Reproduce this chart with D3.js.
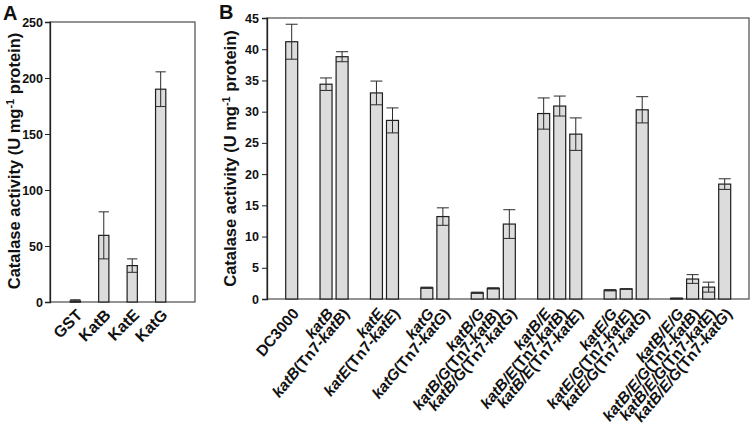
<!DOCTYPE html>
<html>
<head>
<meta charset="utf-8">
<script src="https://cdn.jsdelivr.net/npm/d3@7"></script>
<style>
  html, body { margin: 0; padding: 0; background: #fff; }
  svg { display: block; font-family: "Liberation Sans", Arial, sans-serif; }
</style>
</head>
<body>
<svg id="chart" width="750" height="440"></svg>
<script>
// ---------- Data ----------
const categoriesA = ["GST", "KatB", "KatE", "KatG"];
const valuesA = [1, 59.5, 32.5, 190];
const errorsA = [1, 21, 6, 15.5];
const ticksA = [0, 50, 100, 150, 200, 250];

const categoriesB = [
  "DC3000",
  "katB", "katB(Tn7-katB)",
  "katE", "katE(Tn7-katE)",
  "katG", "katG(Tn7-katG)",
  "katB/G", "katB/G(Tn7-katB)", "katB/G(Tn7-katG)",
  "katB/E", "katB/E(Tn7-katB)", "katB/E(Tn7-katE)",
  "katE/G", "katE/G(Tn7-katE)", "katE/G(Tn7-katG)",
  "katB/E/G", "katB/E/G(Tn7-katB)", "katB/E/G(Tn7-katE)", "katB/E/G(Tn7-katG)"
];
const groupsB = [0, 1, 1, 2, 2, 3, 3, 4, 4, 4, 5, 5, 5, 6, 6, 6, 7, 7, 7, 7];
const valuesB = [41.2, 34.4, 38.8, 33.0, 28.6, 1.8, 13.2, 1.0, 1.7, 12.0,
                 29.7, 30.9, 26.4, 1.4, 1.6, 30.3, 0.1, 3.2, 1.9, 18.4];
const errorsB = [2.8, 1.0, 0.8, 1.9, 2.0, 0.1, 1.4, 0.1, 0.1, 2.3,
                 2.5, 1.6, 2.6, 0.1, 0.05, 2.1, 0.05, 0.7, 0.8, 0.85];
const ticksB = [0, 5, 10, 15, 20, 25, 30, 35, 40, 45];

// ---------- Style ----------
const barFill = "#dcdcdc";
const barStroke = "#1e1e1e";
const errColor = "#2a2a2a";
const frameColor = "#5a5a5a";
const axisColor = "#222";

const svg = d3.select("#chart");

function titleText(g, x, y) {
  const t = g.append("text")
    .attr("transform", "translate(" + x + "," + y + ") rotate(-90)")
    .attr("text-anchor", "middle")
    .attr("font-weight", "bold")
    .attr("font-size", 16.5)
    .attr("fill", "#111");
  t.append("tspan").text("Catalase activity (U mg");
  t.append("tspan").attr("dy", -6).attr("font-size", 11).text("-1");
  t.append("tspan").attr("dy", 6).text(" protein)");
}

function labelText(sel, label) {
  const parts = label.split(/(kat[A-Z](?:\/[A-Z])*)/).filter(s => s.length);
  parts.forEach(p => {
    sel.append("tspan")
      .attr("font-style", /^kat/.test(p) ? "italic" : "normal")
      .text(p);
  });
}

// ---------- Panel A ----------
const A = { left: 50, right: 195, top: 22, bottom: 302 };
const xA = d3.scaleBand().domain(categoriesA).range([52, 184]).padding(0.64);
const yA = d3.scaleLinear().domain([0, 250]).range([A.bottom, A.top]);
const gA = svg.append("g");

gA.append("rect")
  .attr("x", A.left).attr("y", A.top)
  .attr("width", A.right - A.left).attr("height", A.bottom - A.top)
  .attr("fill", "none").attr("stroke", frameColor).attr("stroke-width", 1.3);

const axA = gA.append("g").attr("transform", "translate(" + A.left + ",0)")
  .call(d3.axisLeft(yA).tickValues(ticksA).tickSize(5).tickPadding(2));
axA.select(".domain").attr("stroke", axisColor).attr("stroke-width", 1.3);
axA.selectAll(".tick line").attr("stroke", axisColor);
axA.selectAll(".tick text").attr("font-size", 12.5).attr("font-weight", "bold")
  .attr("fill", "#111").attr("font-family", "Liberation Sans, Arial, sans-serif");

const bwA = xA.bandwidth();
gA.selectAll("rect.bar").data(categoriesA).enter().append("rect")
  .attr("class", "bar")
  .attr("x", d => xA(d))
  .attr("y", (d, i) => yA(valuesA[i]))
  .attr("width", bwA)
  .attr("height", (d, i) => yA(0) - yA(valuesA[i]))
  .attr("fill", barFill).attr("stroke", barStroke).attr("stroke-width", 1.2);

const eA = gA.selectAll("g.err").data(categoriesA).enter().append("g").attr("class", "err");
eA.append("line")
  .attr("x1", d => xA(d) + bwA / 2).attr("x2", d => xA(d) + bwA / 2)
  .attr("y1", (d, i) => yA(valuesA[i] + errorsA[i]))
  .attr("y2", (d, i) => yA(Math.max(0, valuesA[i] - errorsA[i])))
  .attr("stroke", errColor).attr("stroke-width", 1);
[1, -1].forEach(s => {
  eA.append("line")
    .attr("x1", d => xA(d)).attr("x2", d => xA(d) + bwA)
    .attr("y1", (d, i) => yA(Math.max(0, valuesA[i] + s * errorsA[i])))
    .attr("y2", (d, i) => yA(Math.max(0, valuesA[i] + s * errorsA[i])))
    .attr("stroke", errColor).attr("stroke-width", 1);
});

gA.selectAll("text.xl").data(categoriesA).enter().append("text")
  .attr("class", "xl")
  .attr("transform", d => "translate(" + (xA(d) + bwA / 2 + 8) + "," + (A.bottom + 14) + ") rotate(-45)")
  .attr("text-anchor", "end")
  .attr("font-weight", "bold").attr("font-size", 16).attr("fill", "#111")
  .text(d => d);

titleText(gA, 20, 161);
svg.append("text").attr("x", 3).attr("y", 20).attr("font-weight", "bold")
  .attr("font-size", 20).attr("fill", "#111").text("A");

// ---------- Panel B ----------
const B = { left: 267, right: 749, top: 18, bottom: 299 };
const gapExtra = 1.14;
const posB = categoriesB.map((d, i) => i + groupsB[i] * gapExtra);
const xB = d3.scaleLinear().domain([0, d3.max(posB)]).range([291.7, 724.7]);
const yB = d3.scaleLinear().domain([0, 45]).range([B.bottom, B.top]);
const bwB = 12;
const gB = svg.append("g");

gB.append("rect")
  .attr("x", B.left).attr("y", B.top)
  .attr("width", B.right - B.left).attr("height", B.bottom - B.top)
  .attr("fill", "none").attr("stroke", frameColor).attr("stroke-width", 1.3);

const axB = gB.append("g").attr("transform", "translate(" + B.left + ",0)")
  .call(d3.axisLeft(yB).tickValues(ticksB).tickSize(5).tickPadding(3));
axB.select(".domain").attr("stroke", axisColor).attr("stroke-width", 1.3);
axB.selectAll(".tick line").attr("stroke", axisColor);
axB.selectAll(".tick text").attr("font-size", 12.5).attr("font-weight", "bold")
  .attr("fill", "#111").attr("font-family", "Liberation Sans, Arial, sans-serif");

gB.selectAll("rect.bar").data(categoriesB).enter().append("rect")
  .attr("class", "bar")
  .attr("x", (d, i) => xB(posB[i]) - bwB / 2)
  .attr("y", (d, i) => yB(valuesB[i]))
  .attr("width", bwB)
  .attr("height", (d, i) => yB(0) - yB(valuesB[i]))
  .attr("fill", barFill).attr("stroke", barStroke).attr("stroke-width", 1.2);

const eB = gB.selectAll("g.err").data(categoriesB).enter().append("g").attr("class", "err");
eB.append("line")
  .attr("x1", (d, i) => xB(posB[i])).attr("x2", (d, i) => xB(posB[i]))
  .attr("y1", (d, i) => yB(valuesB[i] + errorsB[i]))
  .attr("y2", (d, i) => yB(Math.max(0, valuesB[i] - errorsB[i])))
  .attr("stroke", errColor).attr("stroke-width", 1);
[1, -1].forEach(s => {
  eB.append("line")
    .attr("x1", (d, i) => xB(posB[i]) - bwB / 2).attr("x2", (d, i) => xB(posB[i]) + bwB / 2)
    .attr("y1", (d, i) => yB(Math.max(0, valuesB[i] + s * errorsB[i])))
    .attr("y2", (d, i) => yB(Math.max(0, valuesB[i] + s * errorsB[i])))
    .attr("stroke", errColor).attr("stroke-width", 1);
});

gB.selectAll("text.xl").data(categoriesB).enter().append("text")
  .attr("class", "xl")
  .attr("transform", (d, i) => "translate(" + (xB(posB[i]) + 8) + "," + (B.bottom + 15) + ") rotate(-50)")
  .attr("text-anchor", "end")
  .attr("font-weight", "bold").attr("font-size", 15.5).attr("fill", "#111")
  .each(function(d) { labelText(d3.select(this), d); });

titleText(gB, 236, (B.top + B.bottom) / 2);
svg.append("text").attr("x", 219).attr("y", 19).attr("font-weight", "bold")
  .attr("font-size", 20).attr("fill", "#111").text("B");
</script>
</body>
</html>
